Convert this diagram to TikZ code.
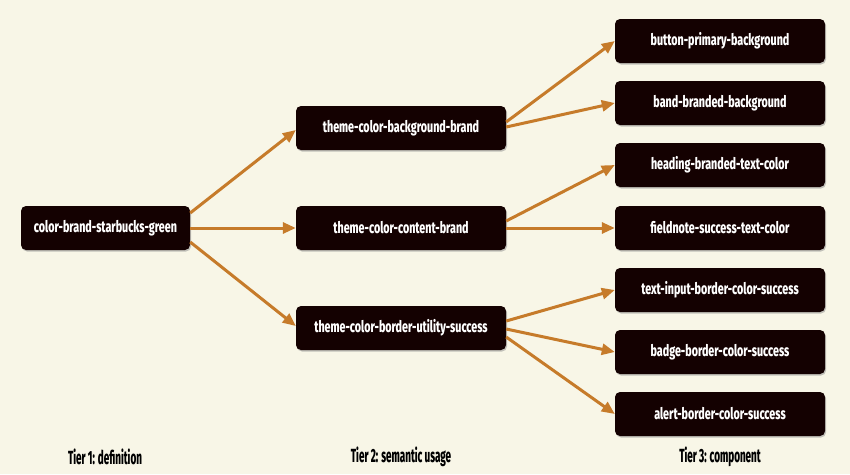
\documentclass[tikz,border=0pt]{standalone}
\usepackage{fontspec}
\newfontfamily\condf{Fira Sans}[FakeStretch=0.67,BoldFont={Fira Sans ExtraBold}]
\newfontfamily\tierf{Fira Sans}[FakeStretch=0.52,BoldFont={Fira Sans ExtraBold}]
\usetikzlibrary{arrows.meta,shadows}
\definecolor{bgc}{HTML}{F8F6E7}
\definecolor{boxc}{HTML}{140101}
\definecolor{arrc}{HTML}{C67B2A}
\begin{document}
\begin{tikzpicture}[x=1pt,y=-1pt,
  tok/.style={draw=none,fill=boxc,rounded corners=5pt,minimum height=44pt,text=white,
    font=\condf\bfseries\fontsize{16}{18}\selectfont,inner sep=0pt,
    drop shadow={shadow xshift=1pt,shadow yshift=-1.5pt,fill=black!45,opacity=0.5}},
  t1/.style={tok,minimum width=169pt},
  t2/.style={tok,minimum width=210pt},
  tier/.style={font=\tierf\bfseries\fontsize{19}{21}\selectfont,text=black},
  arr/.style={draw=arrc,line width=3pt,-{Triangle[length=13pt,width=11pt]}}]
\fill[bgc] (0,0) rectangle (850,474);
\useasboundingbox (0,0) rectangle (850,474);
\node[t1] (a) at (105.5,228) {color-brand-starbucks-green};
\node[t2] (b1) at (401,128) {theme-color-background-brand};
\node[t2] (b2) at (401,228) {theme-color-content-brand};
\node[t2] (b3) at (401,328) {theme-color-border-utility-success};
\node[t2] (c1) at (720,41) {button-primary-background};
\node[t2] (c2) at (720,103) {band-branded-background};
\node[t2] (c3) at (720,165) {heading-branded-text-color};
\node[t2] (c4) at (720,228) {fieldnote-success-text-color};
\node[t2] (c5) at (720,290) {text-input-border-color-success};
\node[t2] (c6) at (720,352) {badge-border-color-success};
\node[t2] (c7) at (720,414) {alert-border-color-success};
\node[tier] (l1) at (105,457) {Tier 1: definition};
\node[tier] (l2) at (401,457) {Tier 2: semantic usage};
\node[tier] (l3) at (720,457) {Tier 3: component};
\draw[arr] ([yshift=15pt]a.east) -- ([yshift=-2pt]b1.west);
\draw[arr] (a.east) -- (b2.west);
\draw[arr] ([yshift=-14pt]a.east) -- ([yshift=2pt]b3.west);
\draw[arr] ([yshift=6pt]b1.east) -- (c1.west);
\draw[arr] ([yshift=1pt]b1.east) -- (c2.west);
\draw[arr] ([yshift=7pt]b2.east) -- (c3.west);
\draw[arr] (b2.east) -- (c4.west);
\draw[arr] ([yshift=7pt]b3.east) -- (c5.west);
\draw[arr] ([yshift=-1pt]b3.east) -- (c6.west);
\draw[arr] ([yshift=-9pt]b3.east) -- (c7.west);
\end{tikzpicture}
\end{document}
